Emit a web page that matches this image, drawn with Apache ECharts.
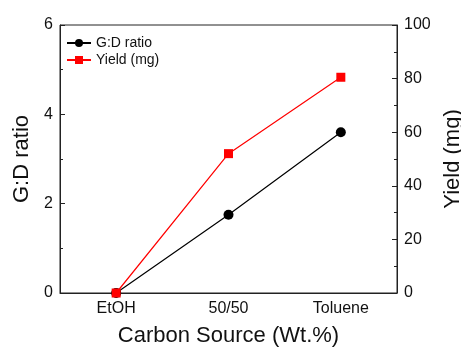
<!DOCTYPE html>
<html>
<head>
<meta charset="utf-8">
<script src="https://cdn.jsdelivr.net/npm/echarts@6/dist/echarts.min.js"></script>
<style>
  html, body { margin: 0; padding: 0; background: #fff; }
  #chart { width: 461px; height: 347px; }
</style>
</head>
<body>
<div id="chart"></div>
<script>
  // values
  const categories = ['EtOH', '50/50', 'Toluene']
  const gdRatio = [0, 1.75, 3.6]
  const yieldMg = [0, 52, 80.5]

  const font = 'Liberation Sans, Arial, sans-serif'
  const chart = echarts.init(document.getElementById('chart'))

  const axisCommon = {
    axisLine: { show: true, lineStyle: { color: '#222', width: 1 } },
    axisTick: { show: true, inside: true, length: 5, lineStyle: { color: '#222' } },
    minorTick: { show: true, splitNumber: 2, length: 3, lineStyle: { color: '#222' } },
    splitLine: { show: false },
    axisLabel: { color: '#111', fontSize: 16, fontFamily: font, margin: 7 },
    nameTextStyle: { color: '#111', fontSize: 22, fontFamily: font }
  }

  let option = {
    animation: false,
    grid: {
      left: 60, right: 64, top: 25, bottom: 54,
      outerBoundsMode: 'none',
      show: true, borderColor: '#222', borderWidth: 1
    },
    legend: {
      orient: 'vertical',
      left: 66, top: 36, padding: 0,
      itemWidth: 24, itemHeight: 10, itemGap: 3,
      textStyle: { fontSize: 14, fontFamily: font, color: '#111' },
      data: ['G:D ratio', 'Yield (mg)']
    },
    xAxis: {
      type: 'category',
      data: categories,
      boundaryGap: true,
      name: 'Carbon Source (Wt.%)',
      nameLocation: 'center',
      nameGap: 32,
      nameTextStyle: { color: '#111', fontSize: 22, fontFamily: font },
      axisLine: { lineStyle: { color: '#222' } },
      axisTick: { inside: true, alignWithLabel: true, length: 5, lineStyle: { color: '#222' } },
      axisLabel: { color: '#111', fontSize: 16, fontFamily: font, margin: 8 }
    },
    yAxis: [
      Object.assign({}, axisCommon, {
        type: 'value', min: 0, max: 6, interval: 2,
        name: 'G:D ratio', nameLocation: 'center', nameGap: 27, position: 'left'
      }),
      Object.assign({}, axisCommon, {
        type: 'value', min: 0, max: 100, interval: 20,
        name: 'Yield (mg)', nameLocation: 'center', nameGap: 35, position: 'right',
        nameRotate: 90
      })
    ],
    series: [
      {
        name: 'G:D ratio',
        type: 'line',
        yAxisIndex: 0,
        data: gdRatio,
        symbol: 'circle',
        symbolSize: 10,
        itemStyle: { color: '#000' },
        lineStyle: { color: '#000', width: 1.2 }
      },
      {
        name: 'Yield (mg)',
        type: 'line',
        yAxisIndex: 1,
        data: yieldMg,
        symbol: 'rect',
        symbolSize: 9,
        itemStyle: { color: '#ff0000' },
        lineStyle: { color: '#ff0000', width: 1.2 }
      }
    ]
  }
  chart.setOption(option)
</script>
</body>
</html>
